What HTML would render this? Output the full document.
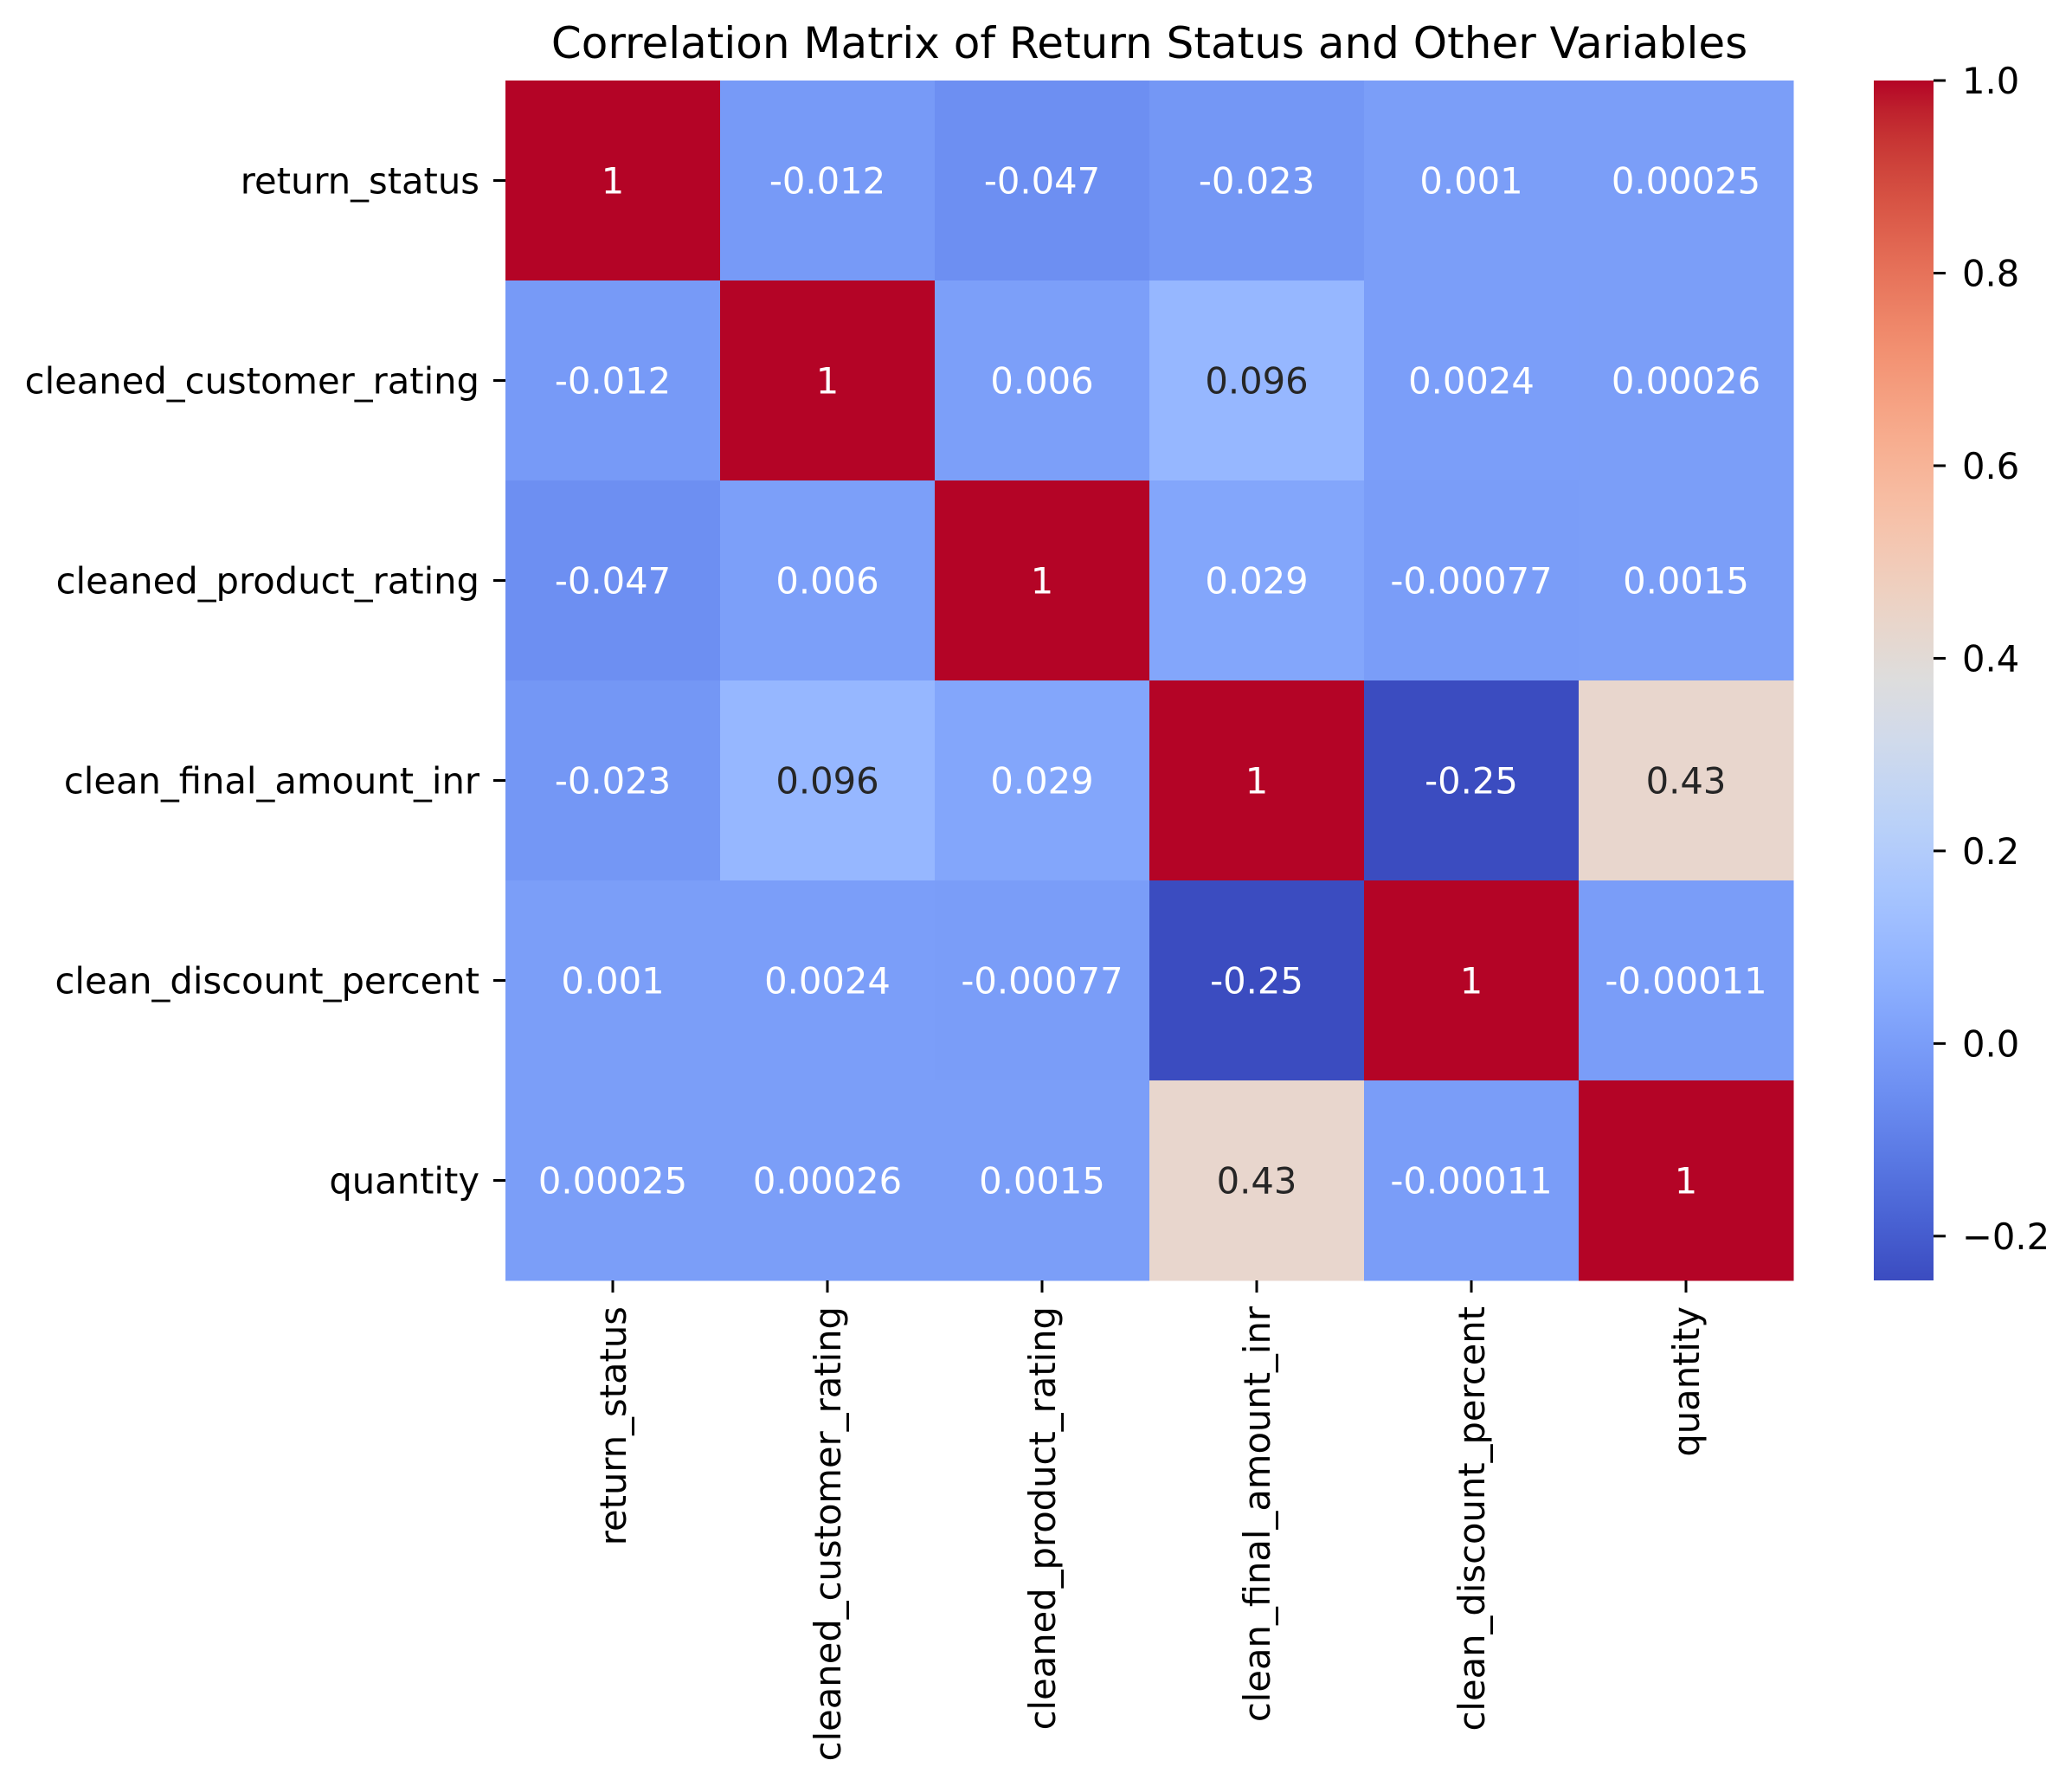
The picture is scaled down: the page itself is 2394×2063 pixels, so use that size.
<!DOCTYPE html>
<html><head><meta charset="utf-8"><style>
html,body{margin:0;padding:0;background:#fff;}
svg{display:block;font-family:"DejaVu Sans","Liberation Sans",sans-serif;}
</style></head><body>
<svg id="chart" width="2394" height="2063" viewBox="0 0 2394 2063" xmlns="http://www.w3.org/2000/svg">
<rect width="2394" height="2063" fill="#fff"/>
<text x="1328" y="67" font-size="50" text-anchor="middle">Correlation Matrix of Return Status and Other Variables</text>
<g id="cells"></g><g id="ylab"></g><g id="xlab"></g>
<defs><linearGradient id="cbgrad" x1="0" y1="1" x2="0" y2="0"></linearGradient></defs>
<rect x="2165" y="93" width="69" height="1386" fill="url(#cbgrad)"/>
<g id="cbticks"></g>
</svg>
<script>
const labels = ["return_status","cleaned_customer_rating","cleaned_product_rating","clean_final_amount_inr","clean_discount_percent","quantity"];
const row0 = [1,-0.012,-0.047,-0.023,0.001,0.00025];
const row1 = [-0.012,1,0.006,0.096,0.0024,0.00026];
const row2 = [-0.047,0.006,1,0.029,-0.00077,0.0015];
const row3 = [-0.023,0.096,0.029,1,-0.25,0.43];
const row4 = [0.001,0.0024,-0.00077,-0.25,1,-0.00011];
const row5 = [0.00025,0.00026,0.0015,0.43,-0.00011,1];
const cellText = [
 ["1","-0.012","-0.047","-0.023","0.001","0.00025"],
 ["-0.012","1","0.006","0.096","0.0024","0.00026"],
 ["-0.047","0.006","1","0.029","-0.00077","0.0015"],
 ["-0.023","0.096","0.029","1","-0.25","0.43"],
 ["0.001","0.0024","-0.00077","-0.25","1","-0.00011"],
 ["0.00025","0.00026","0.0015","0.43","-0.00011","1"]];
const cbTicks = [1.0,0.8,0.6,0.4,0.2,0.0,-0.2];
const cbTickLabels = ["1.0","0.8","0.6","0.4","0.2","0.0","\u22120.2"];
const rows = [row0,row1,row2,row3,row4,row5];
const vmin = -0.246, vmax = 1;
const FS = 41.67;
const X0=584, Y0=93, CW=248, CH=231, CBX=2165, CBW=69, CBTOP=93, CBBOT=1479;
const cm=[[59,76,192],[68,90,204],[77,104,215],[87,117,225],[98,130,234],[108,142,241],[119,154,247],[130,165,251],[141,176,254],[152,185,255],[163,194,255],[174,201,253],[184,208,249],[194,213,244],[204,217,238],[213,219,230],[221,221,221],[229,216,209],[236,211,197],[241,204,185],[245,196,173],[247,187,160],[247,177,148],[247,166,135],[244,154,123],[241,141,111],[236,127,99],[229,112,88],[222,96,77],[213,80,66],[203,62,56],[192,40,47],[180,4,38]];
function cmap(v){let t=(v-vmin)/(vmax-vmin);t=Math.max(0,Math.min(1,t));const p=t*32,i=Math.min(31,Math.floor(p)),f=p-i;return cm[i].map((c,k)=>Math.round(c+(cm[i+1][k]-c)*f));}
function lum(c){const l=c.map(x=>{x/=255;return x<=0.03928?x/12.92:Math.pow((x+0.055)/1.055,2.4);});return 0.2126*l[0]+0.7152*l[1]+0.0722*l[2];}
const NS="http://www.w3.org/2000/svg";
function mk(tag,attrs,parent){const e=document.createElementNS(NS,tag);for(const k in attrs)e.setAttribute(k,attrs[k]);parent.appendChild(e);return e;}
const xs=j=>X0+j*CW, ys=i=>Y0+i*CH, cby=v=>CBTOP+(vmax-v)/(vmax-vmin)*(CBBOT-CBTOP);
const gC=document.getElementById('cells');
rows.forEach((r,i)=>r.forEach((v,j)=>{
 const c=cmap(v);
 const rc=mk('rect',{x:xs(j),y:ys(i),width:CW+0.5,height:CH+0.5,fill:`rgb(${c})`},gC);
 
 
 const t=mk('text',{x:xs(j)+CW/2,y:ys(i)+CH/2+15,'font-size':FS,'text-anchor':'middle',fill:lum(c)>0.408?'#262626':'#fff'},gC);
 t.textContent=cellText[i][j];
 
 
}));
const gY=document.getElementById('ylab'),gX=document.getElementById('xlab');
labels.forEach((l,i)=>{
 const y=ys(i)+CH/2;
 mk('line',{x1:X0-14,x2:X0,y1:y,y2:y,stroke:'#000','stroke-width':3},gY);
 const t=mk('text',{x:X0-30,y:y+15,'font-size':FS,'text-anchor':'end'},gY);t.textContent=l;
 
 
 const x=xs(i)+CW/2, yb=Y0+6*CH;
 mk('line',{x1:x,x2:x,y1:yb,y2:yb+14,stroke:'#000','stroke-width':3},gX);
 const tx=mk('text',{x:0,y:0,'font-size':FS,'text-anchor':'end',transform:`translate(${x+15},${yb+30}) rotate(-90)`},gX);tx.textContent=l;
 
 
});
const gr=document.getElementById('cbgrad');
for(let k=0;k<=40;k++){const v=vmin+(vmax-vmin)*k/40;mk('stop',{offset:(k/40),'stop-color':`rgb(${cmap(v)})`},gr);}
const gT=document.getElementById('cbticks');
cbTicks.forEach((v,k)=>{
 const y=cby(v);
 mk('line',{x1:CBX+CBW,x2:CBX+CBW+14,y1:y,y2:y,stroke:'#000','stroke-width':3},gT);
 const t=mk('text',{x:CBX+CBW+33,y:y+15,'font-size':FS},gT);t.textContent=cbTickLabels[k];
 
 
});
</script>
</body></html>
